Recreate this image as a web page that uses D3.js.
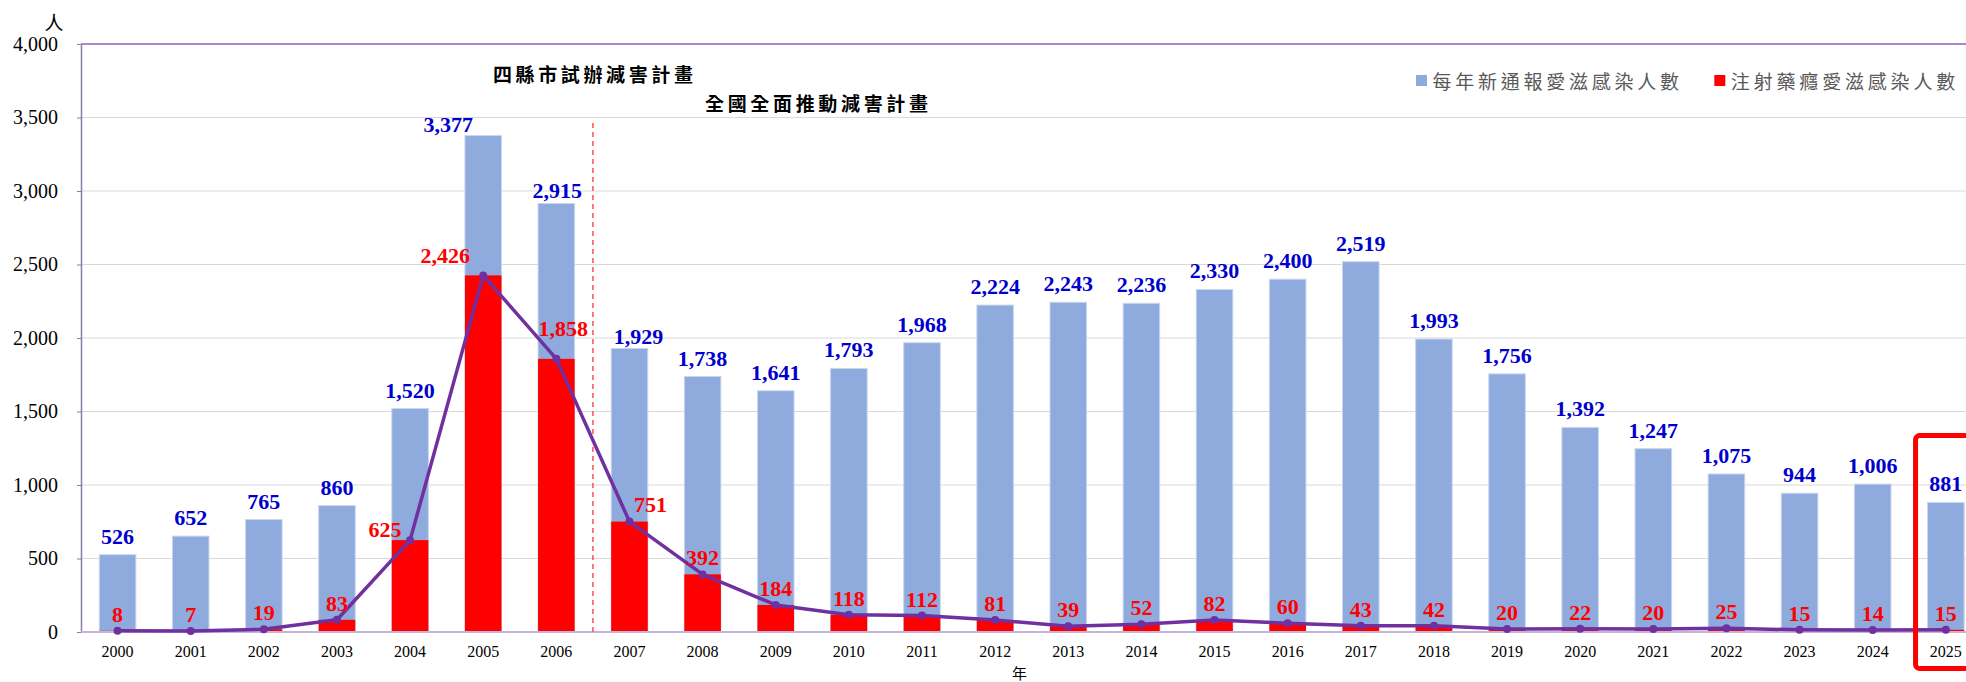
<!DOCTYPE html>
<html>
<head>
<meta charset="utf-8">
<script src="https://cdn.jsdelivr.net/npm/d3@7"></script>
<style>
  body { margin: 0; background: #fff; }
  svg { display: block; }
</style>
</head>
<body>
<svg id="chart" width="1966" height="682"></svg>
<script>
// data
const years = ['2000', '2001', '2002', '2003', '2004', '2005', '2006', '2007', '2008', '2009',
  '2010', '2011', '2012', '2013', '2014', '2015', '2016', '2017', '2018', '2019',
  '2020', '2021', '2022', '2023', '2024', '2025'];
const newCases = [526, 652, 765, 860, 1520, 3377, 2915, 1929, 1738, 1641,
  1793, 1968, 2224, 2243, 2236, 2330, 2400, 2519, 1993, 1756,
  1392, 1247, 1075, 944, 1006, 881];
const iduCases = [8, 7, 19, 83, 625, 2426, 1858, 751, 392, 184,
  118, 112, 81, 39, 52, 82, 60, 43, 42, 20,
  22, 20, 25, 15, 14, 15];
const yTicks = [0, 500, 1000, 1500, 2000, 2500, 3000, 3500, 4000];
const legendLabels = ['每年新通報愛滋感染人數', '注射藥癮愛滋感染人數'];
const phaseLabels = ['四縣市試辦減害計畫', '全國全面推動減害計畫'];
const yUnit = '人';
const xUnit = '年';

// hand-placed labels in the original (dx, dy from default spot)
const newLabelShift = { '2005': [-35, 7], '2006': [1, 6], '2007': [9, 7] };
const iduLabelShift = { '2004': [-25, 5.6], '2005': [-38, -3.7], '2006': [7, -14], '2007': [21, -1] };

const BLUE = '#8FAADC';
const RED = '#FF0000';
const PURPLE = '#7030A0';
const LABEL_BLUE = '#0000CC';
const SERIF = '"Liberation Serif", "Times New Roman", serif';
const CJK = '"Noto Sans CJK TC", "Noto Sans CJK SC", sans-serif';

const PLOT = { left: 81, top: 44, bottom: 632, right: 1982.4 };

const svg = d3.select('#chart');
svg.append('rect').attr('width', 1966).attr('height', 682).attr('fill', '#fff');

const x = d3.scaleBand()
  .domain(years)
  .range([PLOT.left, PLOT.right])
  .paddingInner(0.5)
  .paddingOuter(0.25);

const y = d3.scaleLinear()
  .domain([0, 4000])
  .range([PLOT.bottom, PLOT.top]);

const cx = d => x(d) + x.bandwidth() / 2;

// gridlines
svg.append('g')
  .selectAll('line')
  .data(yTicks.filter(t => t > 0 && t < 4000))
  .enter()
  .append('line')
  .attr('x1', PLOT.left)
  .attr('x2', PLOT.right)
  .attr('y1', d => y(d))
  .attr('y2', d => y(d))
  .attr('stroke', '#D9D9D9')
  .attr('stroke-width', 1.2);

// top border
svg.append('line')
  .attr('x1', PLOT.left).attr('x2', PLOT.right)
  .attr('y1', y(4000)).attr('y2', y(4000))
  .attr('stroke', '#8A62B8')
  .attr('stroke-width', 1.5);

// y axis
const yAxis = svg.append('g')
  .attr('transform', `translate(${PLOT.left},0)`)
  .call(d3.axisLeft(y)
    .tickValues(yTicks)
    .tickSize(4)
    .tickSizeOuter(0)
    .tickPadding(19)
    .tickFormat(d3.format(',')));
yAxis.select('.domain').attr('stroke', '#8C7BA8').attr('stroke-width', 1.5);
yAxis.selectAll('.tick line').attr('stroke', '#8C7BA8');
yAxis.selectAll('.tick text')
  .style('font-family', SERIF)
  .style('font-size', '20px')
  .attr('fill', '#000');

// bars
svg.append('g')
  .selectAll('rect')
  .data(years)
  .enter()
  .append('rect')
  .attr('x', d => x(d))
  .attr('width', x.bandwidth())
  .attr('y', (d, i) => y(newCases[i]))
  .attr('height', (d, i) => y(0) - y(newCases[i]))
  .attr('fill', BLUE)
  .attr('stroke', '#C9D6EE')
  .attr('stroke-width', 1);

svg.append('g')
  .selectAll('rect')
  .data(years)
  .enter()
  .append('rect')
  .attr('x', d => x(d))
  .attr('width', x.bandwidth())
  .attr('y', (d, i) => y(iduCases[i]))
  .attr('height', (d, i) => y(0) - y(iduCases[i]))
  .attr('fill', RED);

// x axis line
svg.append('line')
  .attr('x1', PLOT.left).attr('x2', PLOT.right)
  .attr('y1', y(0)).attr('y2', y(0))
  .attr('stroke', '#C6B3DA')
  .attr('stroke-width', 2);

// divider between the two phases
const splitX = (x('2006') + x.bandwidth() + x('2007')) / 2;
svg.append('line')
  .attr('x1', splitX).attr('x2', splitX)
  .attr('y1', 123).attr('y2', y(0))
  .attr('stroke', '#FF5A5A')
  .attr('stroke-width', 1.6)
  .attr('stroke-dasharray', '5,4');

// IDU line + markers
const line = d3.line()
  .x(d => cx(d))
  .y((d, i) => y(iduCases[i]));

svg.append('path')
  .datum(years)
  .attr('d', line)
  .attr('fill', 'none')
  .attr('stroke', PURPLE)
  .attr('stroke-width', 3.5)
  .attr('stroke-linejoin', 'round');

svg.append('g')
  .selectAll('circle')
  .data(years)
  .enter()
  .append('circle')
  .attr('cx', d => cx(d))
  .attr('cy', (d, i) => y(iduCases[i]))
  .attr('r', 4)
  .attr('fill', PURPLE);

// x tick labels
const xAxis = svg.append('g')
  .attr('transform', `translate(0,${PLOT.bottom})`)
  .call(d3.axisBottom(x).tickSize(0).tickPadding(14));
xAxis.select('.domain').remove();
xAxis.selectAll('.tick text')
  .style('font-family', SERIF)
  .style('font-size', '16px')
  .attr('fill', '#000');

const fmt = d3.format(',');

// value labels: new cases
svg.append('g')
  .selectAll('text')
  .data(years)
  .enter()
  .append('text')
  .attr('x', d => cx(d) + (newLabelShift[d] ? newLabelShift[d][0] : 0))
  .attr('y', (d, i) => y(newCases[i]) - 11 + (newLabelShift[d] ? newLabelShift[d][1] : 0))
  .attr('text-anchor', 'middle')
  .style('font-family', SERIF)
  .style('font-size', '22px')
  .style('font-weight', 'bold')
  .attr('fill', LABEL_BLUE)
  .text((d, i) => fmt(newCases[i]));

// value labels: IDU cases
svg.append('g')
  .selectAll('text')
  .data(years)
  .enter()
  .append('text')
  .attr('x', d => cx(d) + (iduLabelShift[d] ? iduLabelShift[d][0] : 0))
  .attr('y', (d, i) => y(iduCases[i]) - 9 + (iduLabelShift[d] ? iduLabelShift[d][1] : 0))
  .attr('text-anchor', 'middle')
  .style('font-family', SERIF)
  .style('font-size', '22px')
  .style('font-weight', 'bold')
  .attr('fill', RED)
  .text((d, i) => fmt(iduCases[i]));

// phase annotations
const phasePos = [{ x: 493, y: 73, w: 200 }, { x: 705, y: 102.5, w: 223 }];
phaseLabels.forEach((t, i) => {
  svg.append('text')
    .attr('x', phasePos[i].x)
    .attr('y', phasePos[i].y)
    .attr('dominant-baseline', 'central')
    .attr('textLength', phasePos[i].w)
    .attr('lengthAdjust', 'spacing')
    .style('font-family', CJK)
    .style('font-size', '19px')
    .style('font-weight', 'bold')
    .attr('fill', '#000')
    .text(t);
});

// legend
const legendPos = [{ x: 1416, w: 246.5, color: BLUE }, { x: 1714.3, w: 224.5, color: RED }];
legendLabels.forEach((t, i) => {
  const p = legendPos[i];
  svg.append('rect')
    .attr('x', p.x).attr('y', 75)
    .attr('width', 11).attr('height', 11)
    .attr('fill', p.color);
  svg.append('text')
    .attr('x', p.x + 16.5)
    .attr('y', 80.5)
    .attr('dominant-baseline', 'central')
    .attr('textLength', p.w)
    .attr('lengthAdjust', 'spacing')
    .style('font-family', CJK)
    .style('font-size', '19px')
    .attr('fill', '#595959')
    .text(t);
});

// unit labels
svg.append('text')
  .attr('x', 54).attr('y', 21)
  .attr('text-anchor', 'middle')
  .attr('dominant-baseline', 'central')
  .style('font-family', CJK)
  .style('font-size', '19px')
  .attr('fill', '#000')
  .text(yUnit);

svg.append('text')
  .attr('x', 1019.5).attr('y', 672)
  .attr('text-anchor', 'middle')
  .attr('dominant-baseline', 'central')
  .style('font-family', CJK)
  .style('font-size', '15px')
  .attr('fill', '#000')
  .text(xUnit);

// highlight box around latest year
svg.append('rect')
  .attr('x', x('2025') - 12)
  .attr('y', 435.5)
  .attr('width', 90)
  .attr('height', 233)
  .attr('rx', 4)
  .attr('fill', 'none')
  .attr('stroke', RED)
  .attr('stroke-width', 5);
</script>
</body>
</html>
